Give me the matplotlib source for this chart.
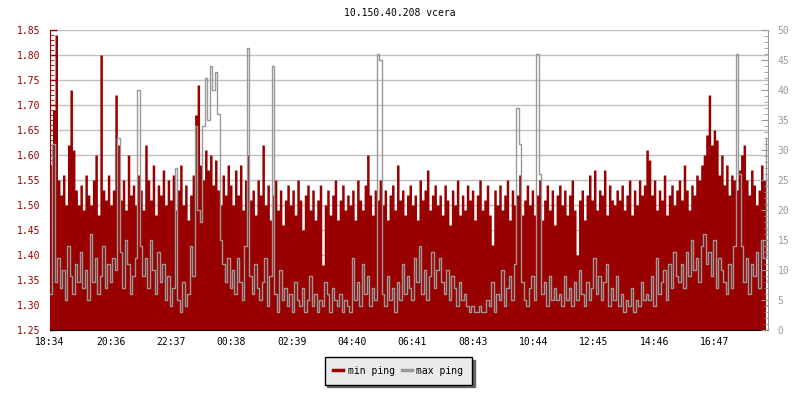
import matplotlib
matplotlib.use('Agg')
import matplotlib.pyplot as plt
from matplotlib.lines import Line2D
from matplotlib.ticker import MultipleLocator
import numpy as np

# -------------------------------------------------------------------------------------------------------------------- #
# DATA  (one row = one hour, 5 min samples, starting 18:34)

title = '10.150.40.208 vcera'
series_names = ['min ping', 'max ping']
tick_labels = ['18:34', '20:36', '22:37', '00:38', '02:39', '04:40',
               '06:41', '08:43', '10:44', '12:45', '14:46', '16:47']
sample_step = 5  # minutes

min_ping = [
    1.58, 1.69, 1.84, 1.55, 1.52, 1.56, 1.50, 1.62, 1.73, 1.61, 1.53, 1.50,
    1.54, 1.49, 1.56, 1.52, 1.50, 1.55, 1.60, 1.48, 1.80, 1.53, 1.51, 1.56,
    1.50, 1.53, 1.72, 1.62, 1.51, 1.55, 1.49, 1.60, 1.52, 1.54, 1.50, 1.56,
    1.53, 1.49, 1.62, 1.55, 1.51, 1.58, 1.48, 1.54, 1.52, 1.57, 1.50, 1.55,
    1.51, 1.56, 1.49, 1.53, 1.58, 1.50, 1.54, 1.47, 1.52, 1.56, 1.68, 1.74,
    1.58, 1.55, 1.61, 1.57, 1.60, 1.54, 1.59, 1.53, 1.50, 1.56, 1.52, 1.58,
    1.54, 1.50, 1.57, 1.52, 1.58, 1.49, 1.55, 1.60, 1.51, 1.53, 1.48, 1.55,
    1.52, 1.62, 1.50, 1.54, 1.47, 1.52, 1.55, 1.49, 1.53, 1.46, 1.51, 1.54,
    1.50, 1.53, 1.48, 1.55, 1.51, 1.45, 1.52, 1.54, 1.49, 1.53, 1.47, 1.51,
    1.54, 1.38, 1.50, 1.53, 1.48, 1.52, 1.55, 1.47, 1.51, 1.54, 1.49, 1.52,
    1.50, 1.53, 1.47, 1.55, 1.51, 1.49, 1.54, 1.60, 1.52, 1.48, 1.53, 1.51,
    1.55, 1.50, 1.53, 1.47, 1.52, 1.54, 1.49, 1.58, 1.51, 1.53, 1.48, 1.52,
    1.54, 1.50, 1.52, 1.47, 1.55, 1.51, 1.53, 1.57, 1.49, 1.52, 1.54, 1.50,
    1.52, 1.48, 1.54, 1.51, 1.46, 1.53, 1.50, 1.55, 1.48, 1.52, 1.49, 1.54,
    1.51, 1.53, 1.47, 1.52, 1.55, 1.49, 1.51, 1.54, 1.48, 1.42, 1.53, 1.50,
    1.54, 1.49, 1.52, 1.55, 1.47, 1.53, 1.50, 1.52, 1.56, 1.48, 1.51, 1.54,
    1.50, 1.53, 1.48, 1.52, 1.55, 1.47, 1.51, 1.54, 1.49, 1.53, 1.46, 1.52,
    1.54, 1.50, 1.53, 1.48, 1.52, 1.55, 1.49, 1.40, 1.51, 1.53, 1.47, 1.52,
    1.56, 1.51, 1.57, 1.49, 1.53, 1.52, 1.57, 1.48, 1.54, 1.51, 1.50, 1.53,
    1.51, 1.54, 1.49, 1.52, 1.55, 1.48, 1.53, 1.50, 1.55, 1.52, 1.54, 1.61,
    1.59, 1.52, 1.55, 1.49, 1.53, 1.51, 1.56, 1.48, 1.52, 1.54, 1.50, 1.53,
    1.55, 1.51, 1.58, 1.53, 1.49, 1.54, 1.52, 1.56, 1.55, 1.58, 1.60, 1.64,
    1.72, 1.62, 1.65, 1.63, 1.56, 1.60, 1.54, 1.58, 1.52, 1.56, 1.55, 1.53,
    1.57, 1.60, 1.62, 1.55, 1.52, 1.57, 1.54, 1.50, 1.53, 1.58, 1.55, 1.52,
]

max_ping = [
    6, 31, 8, 12, 7, 10, 5, 14, 9, 6, 11, 8,
    13, 7, 10, 5, 16, 8, 12, 6, 9, 14, 7, 11,
    8, 12, 10, 32, 13, 7, 15, 11, 6, 9, 12, 40,
    14, 9, 12, 7, 15, 10, 6, 13, 8, 11, 5, 9,
    4, 7, 27, 5, 3, 8, 4, 6, 14, 9, 34, 20,
    18, 34, 42, 35, 44, 40, 43, 36, 15, 11, 8, 12,
    7, 10, 6, 12, 8, 5, 14, 47, 9, 6, 11, 7,
    5, 8, 12, 4, 9, 44, 6, 3, 10, 5, 7, 4,
    6, 3, 8, 5, 4, 7, 3, 5, 9, 4, 6, 3,
    5, 4, 8, 6, 3, 7, 5, 4, 6, 3, 5, 4,
    3, 12, 5, 8, 4, 11, 6, 9, 4, 7, 5, 46,
    45, 6, 4, 9, 5, 7, 3, 8, 5, 11, 6, 9,
    7, 5, 12, 8, 14, 6, 10, 5, 9, 13, 7, 10,
    12, 8, 6, 10, 5, 9, 7, 4, 8, 5, 6, 4,
    3, 4, 3, 3, 4, 3, 3, 5, 4, 8, 3, 6,
    5, 10, 4, 7, 9, 5, 11, 37, 31, 8, 5, 4,
    7, 9, 5, 46, 26, 6, 8, 4, 9, 5, 7, 5,
    6, 4, 9, 5, 7, 4, 8, 5, 10, 6, 4, 8,
    5, 7, 12, 6, 9, 5, 8, 11, 4, 7, 5, 9,
    4, 6, 3, 5, 4, 7, 3, 5, 4, 8, 5, 6,
    5, 9, 4, 12, 6, 8, 10, 5, 11, 7, 13, 9,
    8, 11, 7, 13, 9, 15, 10, 12, 8, 14, 16, 11,
    13, 9, 15, 7, 12, 10, 8, 6, 11, 7, 14, 46,
    26, 14, 8, 12, 6, 11, 9, 13, 7, 15, 12, 32,
]

# -------------------------------------------------------------------------------------------------------------------- #
# PLOT

red = '#990000'
grey = '#999999'
plt.rcParams['font.family'] = ['DejaVu Sans Mono']
plt.rcParams['font.size'] = 7

minutes = np.arange(len(min_ping)) * sample_step
x_end = minutes[-1] + sample_step


def to_offset(label):
    h, m = map(int, label.split(':'))
    h0, m0 = map(int, tick_labels[0].split(':'))
    return ((h * 60 + m) - (h0 * 60 + m0)) % (24 * 60)


fig = plt.figure(figsize=(8, 4), dpi=100)
ax = fig.add_axes([50 / 800, 70 / 400, 718 / 800, 300 / 400])
ax2 = ax.twinx()

ax.fill_between(minutes, 1.25, min_ping, step='post', color=red, lw=0, zorder=2)
ax2.step(minutes, max_ping, where='post', color=grey, lw=1)

ax.set_xlim(0, x_end)
ax.set_ylim(1.25, 1.85)
ax2.set_ylim(0, 50)

ax.set_xticks([to_offset(t) for t in tick_labels])
ax.set_xticklabels(tick_labels)
ax.yaxis.set_major_locator(MultipleLocator(0.05))
ax.yaxis.set_minor_locator(MultipleLocator(0.01))
ax.yaxis.set_major_formatter(plt.FormatStrFormatter('%.2f'))
ax2.yaxis.set_major_locator(MultipleLocator(5))
ax2.yaxis.set_minor_locator(MultipleLocator(1))

ax.grid(axis='y', color='#c0c0c0', lw=1)
ax.set_axisbelow(True)

ax.tick_params(axis='y', direction='in', colors=red, length=5, width=1, pad=7)
ax.tick_params(axis='y', which='minor', direction='in', colors=red, length=3)
ax.tick_params(axis='x', direction='in', colors='black', length=5, pad=5)
ax2.tick_params(axis='y', direction='in', colors=grey, length=5, pad=7)
ax2.tick_params(axis='y', which='minor', direction='in', colors=grey, length=3)

for s in ['top', 'right']:
    ax.spines[s].set_visible(False)
for s in ['top', 'left', 'bottom']:
    ax2.spines[s].set_visible(False)
ax.spines['left'].set_color(red)
ax.spines['bottom'].set_color('black')
ax2.spines['right'].set_color(grey)

fig.text(0.5, 0.967, title, ha='center', va='center', fontsize=7)

handles = [Line2D([], [], color=red, lw=2.5), Line2D([], [], color=grey, lw=2.5)]
leg = fig.legend(handles, series_names, loc='center', bbox_to_anchor=(0.498, 0.073), ncol=2,
                 frameon=True, fancybox=False, shadow={'color': '#666666', 'alpha': 1},
                 edgecolor='black', facecolor='#eaeaea', framealpha=1,
                 handlelength=1.0, handletextpad=0.5, columnspacing=0.7,
                 borderpad=0.9, borderaxespad=0)
leg.get_frame().set_linewidth(1)

fig.savefig('out.png', dpi=100)
